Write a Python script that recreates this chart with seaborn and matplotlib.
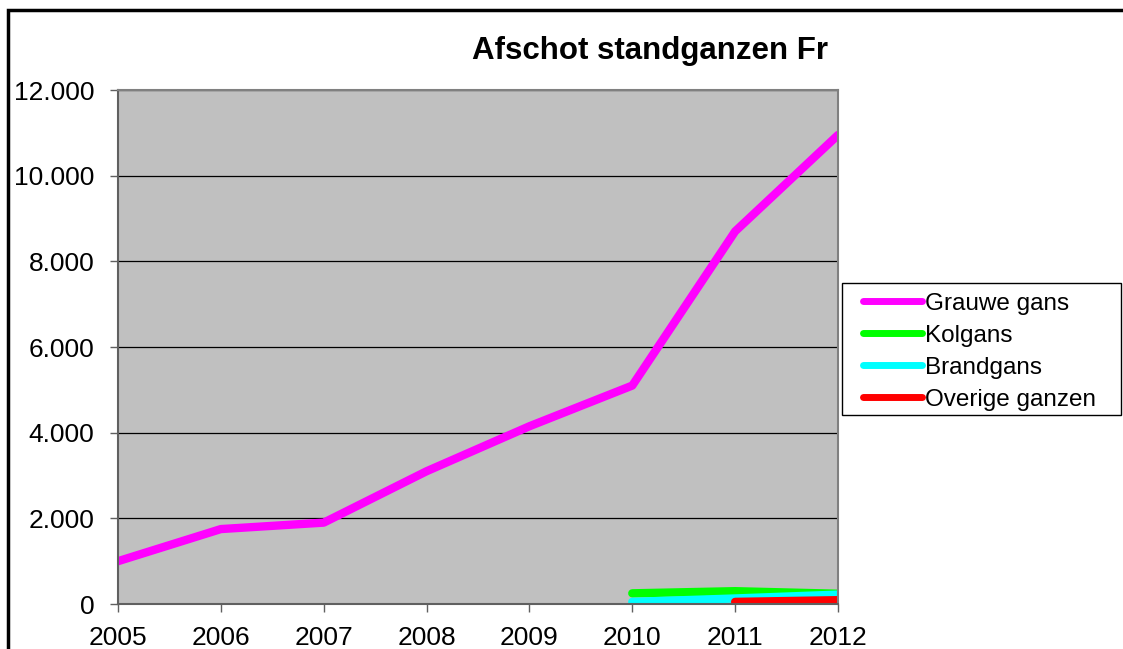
import matplotlib
matplotlib.use("Agg")
import matplotlib.pyplot as plt
import matplotlib.patches as mpatches
from matplotlib.legend_handler import HandlerLine2D
from matplotlib.ticker import FuncFormatter
import numpy as np
import pandas as pd
import seaborn as sns

YEARS = [2005, 2006, 2007, 2008, 2009, 2010, 2011, 2012]
SERIES = ["Grauwe gans", "Kolgans", "Brandgans", "Overige ganzen"]
GRAUWE = [1000, 1750, 1900, 3100, 4150, 5100, 8700, 10950]
KOLGANS = [np.nan, np.nan, np.nan, np.nan, np.nan, 250, 300, 240]
BRANDGANS = [np.nan, np.nan, np.nan, np.nan, np.nan, 50, 130, 220]
OVERIGE = [np.nan, np.nan, np.nan, np.nan, np.nan, np.nan, 50, 90]
COLORS = {"Grauwe gans": "#FF00FF", "Kolgans": "#00FF00",
          "Brandgans": "#00FFFF", "Overige ganzen": "#FF0000"}


def dot_thousands(v, pos):
    return f"{int(round(v)):,}".replace(",", ".")


sns.set_theme(style="white")
plt.rcParams["font.family"] = ["Liberation Sans", "DejaVu Sans"]
plt.rcParams["text.color"] = "black"

df = pd.DataFrame({
    "jaar": YEARS * 4,
    "soort": sum([[s] * len(YEARS) for s in SERIES], []),
    "afschot": GRAUWE + KOLGANS + BRANDGANS + OVERIGE,
}).dropna()

fig = plt.figure(figsize=(11.23, 6.49), dpi=100)
ax = fig.add_axes([0.1051, 0.0693, 0.6411, 0.792])
ax.set_facecolor("#C0C0C0")

sns.lineplot(data=df, x="jaar", y="afschot", hue="soort", hue_order=SERIES,
             palette=COLORS, linewidth=6, ax=ax, legend=False,
             solid_capstyle="round")

ax.set_xlim(2005, 2012)
ax.set_ylim(0, 12000)
ax.set_xticks(YEARS)
ax.set_yticks(range(0, 12001, 2000))
ax.yaxis.set_major_formatter(FuncFormatter(dot_thousands))
ax.grid(axis="y", color="black", linewidth=0.9)
ax.set_axisbelow(True)
ax.set_xlabel("")
ax.set_ylabel("")
ax.tick_params(axis="both", labelsize=19, labelcolor="black", color="#606060",
               length=6, width=1, direction="out", bottom=True, left=True)
ax.tick_params(axis="x", pad=10)
ax.tick_params(axis="y", pad=11)
for side in ["left", "bottom"]:
    ax.spines[side].set_color("#606060")
    ax.spines[side].set_linewidth(1.5)
for side in ["top", "right"]:
    ax.spines[side].set_color("#808080")
    ax.spines[side].set_linewidth(1.5)

fig.text(0.579, 0.922, "Afschot standganzen Fr", ha="center", va="center",
         fontsize=22.5, fontweight="bold", color="black")

# legend: frame drawn separately so it can be wider than the text
handles = [plt.Line2D([], [], color=COLORS[s], linewidth=5,
                      solid_capstyle="round") for s in SERIES]
leg = fig.legend(handles, SERIES, loc="upper left",
                 bbox_to_anchor=(842 / 1123, 1 - 283 / 649),
                 frameon=False, fontsize=17.5,
                 handlelength=2.88, handletextpad=0.15, labelspacing=0.41,
                 borderpad=0.4, borderaxespad=0,
                 handler_map={plt.Line2D: HandlerLine2D(xpad=0.45)})
leg_box = mpatches.Rectangle((842 / 1123, 1 - 415 / 649), 279 / 1123,
                             132 / 649, transform=fig.transFigure,
                             facecolor="white", edgecolor="black",
                             linewidth=1, zorder=0)
fig.patches.append(leg_box)

# outer chart border, cut off on the right and bottom like the original
border = mpatches.Rectangle((8 / 1123, -0.1), 1.2, 1.1 - 10 / 649,
                            transform=fig.transFigure, fill=False,
                            edgecolor="black", linewidth=2.5)
fig.patches.append(border)

fig.savefig("out.png", dpi=100)
